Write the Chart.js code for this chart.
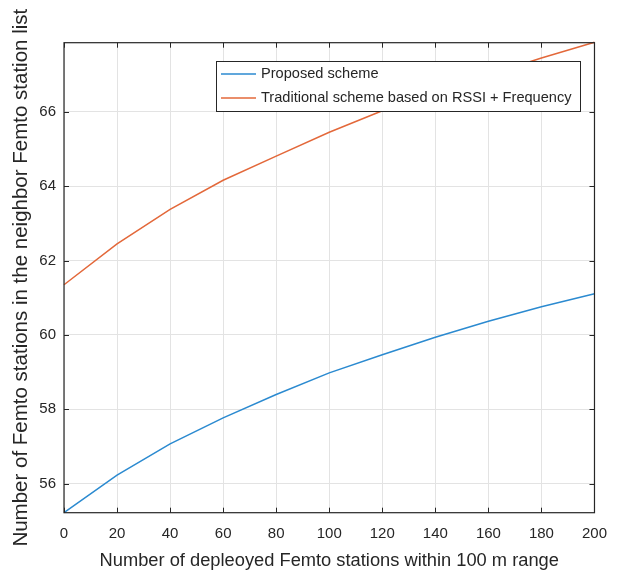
<!DOCTYPE html>
<html>
<head>
<meta charset="utf-8">
<script src="https://cdn.jsdelivr.net/npm/chart.js@4.4.1/dist/chart.umd.min.js"></script>
<style>
  html, body { margin: 0; padding: 0; background: #fff; }
  #wrap { width: 619px; height: 574px; }
</style>
</head>
<body>
<div id="wrap"><canvas id="myChart" width="619" height="574"></canvas></div>
<script>
let stations = [0, 20, 40, 60, 80, 100, 120, 140, 160, 180, 200];
let proposed = [55.22, 56.23, 57.07, 57.77, 58.40, 58.98, 59.47, 59.94, 60.37, 60.76, 61.11];
let traditional = [61.35, 62.45, 63.38, 64.16, 64.81, 65.45, 66.03, 66.52, 66.99, 67.45, 67.87];
let xTicks = [0, 20, 40, 60, 80, 100, 120, 140, 160, 180, 200];
let yTicks = [56, 58, 60, 62, 64, 66];
let seriesNames = ['Proposed scheme', 'Traditional scheme based on RSSI + Frequency'];
let colors = ['#2b8ad0', '#e3683a'];

let axisColor = '#262626';
let font = 'Liberation Sans, Arial, Helvetica, sans-serif';

// box with inward ticks on all four sides, like matlab
const boxPlugin = {
  id: 'box',
  afterDraw(chart) {
    const { ctx, chartArea: a, scales } = chart;
    ctx.save();
    ctx.strokeStyle = axisColor;
    ctx.lineWidth = 1.2;
    ctx.strokeRect(a.left, a.top, a.right - a.left, a.bottom - a.top);
    ctx.lineWidth = 1;
    ctx.beginPath();
    xTicks.forEach(t => {
      const x = Math.round(scales.x.getPixelForValue(t)) + 0.5;
      ctx.moveTo(x, a.bottom); ctx.lineTo(x, a.bottom - 5);
      ctx.moveTo(x, a.top); ctx.lineTo(x, a.top + 5);
    });
    yTicks.forEach(t => {
      const y = Math.round(scales.y.getPixelForValue(t)) + 0.5;
      ctx.moveTo(a.left, y); ctx.lineTo(a.left + 5, y);
      ctx.moveTo(a.right, y); ctx.lineTo(a.right - 5, y);
    });
    ctx.stroke();

    // legend box
    const lx = 216, ly = 61, lw = 364, lh = 50;
    ctx.fillStyle = '#fff';
    ctx.fillRect(lx, ly, lw, lh);
    ctx.strokeStyle = axisColor;
    ctx.lineWidth = 1;
    ctx.strokeRect(lx + 0.5, ly + 0.5, lw, lh);
    ctx.font = '14.6px ' + font;
    ctx.textBaseline = 'middle';
    ctx.textAlign = 'left';
    chart.data.datasets.forEach((ds, i) => {
      const yy = ly + 13 + i * 24;
      ctx.strokeStyle = ds.borderColor;
      ctx.lineWidth = 1.5;
      ctx.beginPath();
      ctx.moveTo(lx + 5, yy); ctx.lineTo(lx + 40, yy);
      ctx.stroke();
      ctx.fillStyle = axisColor;
      ctx.fillText(ds.label, lx + 45, yy);
    });
    ctx.restore();
  }
};

let ctx = document.getElementById('myChart').getContext('2d');

let myChart = new Chart(ctx, {
  type: 'line',
  data: {
    datasets: [
      {
        label: seriesNames[0],
        data: stations.map((s, i) => ({ x: s, y: proposed[i] })),
        borderColor: colors[0],
        borderWidth: 1.5,
        pointRadius: 0,
        tension: 0
      },
      {
        label: seriesNames[1],
        data: stations.map((s, i) => ({ x: s, y: traditional[i] })),
        borderColor: colors[1],
        borderWidth: 1.5,
        pointRadius: 0,
        tension: 0
      }
    ]
  },
  options: {
    responsive: false,
    animation: false,
    clip: false,
    layout: {
      padding: { top: 42.7, right: 24, left: 0, bottom: 0 }
    },
    plugins: {
      legend: { display: false },
      tooltip: { enabled: false }
    },
    scales: {
      x: {
        type: 'linear',
        min: 0,
        max: 200,
        afterBuildTicks: (scale) => { scale.ticks = xTicks.map(v => ({ value: v })); },
        afterFit: (scale) => { scale.height = 61.3; },
        border: { display: false },
        grid: { color: '#e3e3e3', drawTicks: false },
        ticks: {
          color: axisColor,
          padding: 12,
          maxRotation: 0,
          font: { family: font, size: 15 }
        },
        title: {
          display: true,
          text: 'Number of depleoyed Femto stations within 100 m range',
          color: axisColor,
          font: { family: font, size: 18.3 },
          padding: { top: 0, bottom: 2.5 }
        }
      },
      y: {
        min: 55.22,
        max: 67.86,
        afterBuildTicks: (scale) => { scale.ticks = yTicks.map(v => ({ value: v })); },
        afterFit: (scale) => { scale.width = 64; },
        border: { display: false },
        grid: { color: '#e3e3e3', drawTicks: false },
        ticks: {
          color: axisColor,
          padding: 8,
          font: { family: font, size: 15 }
        },
        title: {
          display: true,
          text: 'Number of Femto stations in the neighbor Femto station list',
          color: axisColor,
          font: { family: font, size: 20.5 },
          padding: { top: 9.5, bottom: 0 }
        }
      }
    }
  },
  plugins: [boxPlugin]
});
</script>
</body>
</html>
